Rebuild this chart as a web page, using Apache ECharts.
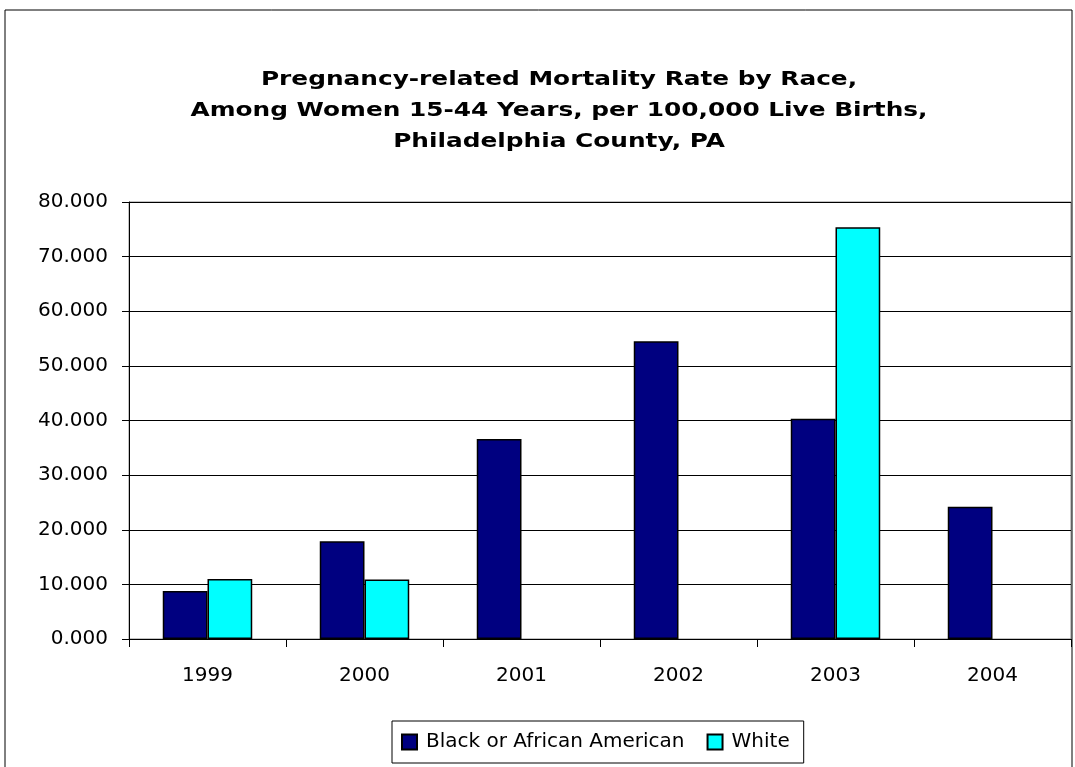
<!DOCTYPE html>
<html>
<head>
<meta charset="utf-8">
<script src="https://cdn.jsdelivr.net/npm/echarts@6/dist/echarts.min.js"></script>
<style>
  html, body { margin: 0; padding: 0; background: #fff; }
  #chart { width: 1075px; height: 767px; }
</style>
</head>
<body>
<div id="chart"></div>
<script>
// values
var years = ['1999', '2000', '2001', '2002', '2003', '2004'];
var blackRates = [8.8, 17.9, 36.6, 54.5, 40.3, 24.2];
var whiteRates = [11.0, 10.9, null, null, 75.4, null];
var yTicks = [0, 10, 20, 30, 40, 50, 60, 70, 80];
var titleText = 'Pregnancy-related Mortality Rate by Race,\nAmong Women 15-44 Years, per 100,000 Live Births,\nPhiladelphia County, PA';

// the original text is widely spaced, a wide face gets closest
var font = '"DejaVu Sans", Verdana, sans-serif';

var option = {
    animation: false,
    backgroundColor: '#fff',
    legend: {
        left: 392,
        top: 721,
        padding: [11, 14, 11, 9],
        itemGap: 22,
        itemWidth: 15,
        itemHeight: 15,
        icon: 'rect',
        borderColor: '#000',
        borderWidth: 1,
        textStyle: { fontFamily: font, fontSize: 20, color: '#000', padding: [0, 0, 0, 4] },
        data: ['Black or African American', 'White']
    },
    grid: {
        left: 129,
        right: 4,
        top: 202,
        bottom: 128,
        show: true,
        borderColor: '#888',
        borderWidth: 1
    },
    xAxis: {
        type: 'category',
        data: years,
        axisLine: { lineStyle: { color: '#000', width: 1 } },
        axisTick: { show: true, length: 8, lineStyle: { color: '#000' } },
        axisLabel: { fontFamily: font, fontSize: 20, color: '#000', margin: 27 }
    },
    yAxis: {
        type: 'value',
        min: yTicks[0],
        max: yTicks[yTicks.length - 1],
        interval: 10,
        axisLine: { show: true, lineStyle: { color: '#000', width: 1 } },
        axisTick: { show: true, length: 7, lineStyle: { color: '#000' } },
        splitLine: { lineStyle: { color: '#000', width: 1 } },
        axisLabel: {
            fontFamily: font, fontSize: 20, color: '#000', margin: 21,
            formatter: function (v) { return v.toFixed(3); }
        }
    },
    series: [
        {
            name: 'Black or African American',
            type: 'bar',
            data: blackRates,
            barGap: '0%',
            barCategoryGap: '43%',
            itemStyle: { color: '#000080', borderColor: '#000', borderWidth: 1.5 }
        },
        {
            name: 'White',
            type: 'bar',
            data: whiteRates,
            itemStyle: { color: '#00FFFF', borderColor: '#000', borderWidth: 1.5 }
        }
    ],
    graphic: [
        {
            type: 'rect',
            shape: { x: 5, y: 10, width: 1067, height: 770 },
            style: { fill: 'none', stroke: '#000', lineWidth: 1 },
            silent: true
        },
        {
            // title drawn as a graphic so it can be stretched a bit
            type: 'text',
            x: 559,
            y: 64,
            scaleX: 1.24,
            silent: true,
            style: {
                text: titleText,
                fill: '#000',
                fontFamily: font,
                fontSize: 20,
                fontWeight: 'bold',
                lineHeight: 31,
                align: 'center',
                verticalAlign: 'top'
            }
        }
    ]
};

var chart = echarts.init(document.getElementById('chart'));
chart.setOption(option);
</script>
</body>
</html>
